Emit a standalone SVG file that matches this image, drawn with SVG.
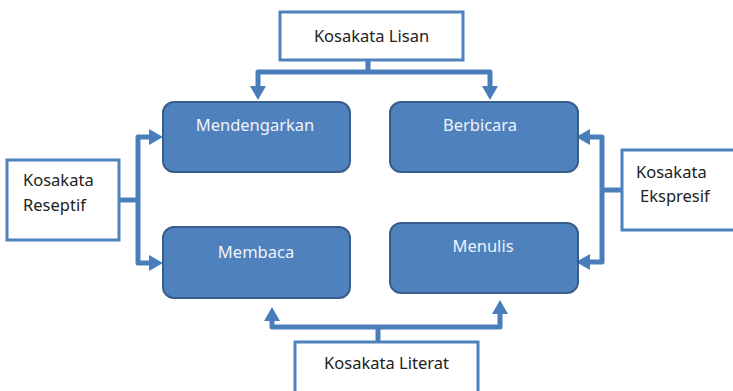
<svg xmlns="http://www.w3.org/2000/svg" width="733" height="391" viewBox="0 0 733 391">
<style>
.bn rect{fill:#4F81BD;stroke:#385D8A;stroke-width:2}
.bn text{fill:#EEF3FA;font-family:"Noto Sans",sans-serif;font-size:16.5px;text-anchor:middle}
.wn rect{fill:#FFFFFF;stroke:#4F81BD;stroke-width:3}
.wn text{fill:#222222;font-family:"Noto Sans",sans-serif;font-size:16.5px}
.con path{fill:none;stroke:#4A7EBB;stroke-width:5;stroke-linejoin:round;marker-end:url(#ah)}
.con path.nm{marker-end:none}
</style>
<defs>
<marker id="ah" markerUnits="userSpaceOnUse" markerWidth="18" markerHeight="18" refX="2" refY="9" orient="auto">
<path d="M0,1 L14,9 L0,17 Z" fill="#4A7EBB"/>
</marker>
</defs>
<g id="connectors" class="con">
<path class="nm" d="M368,60 V72"/>
<path d="M368,72 H258 V88"/>
<path d="M368,72 H490 V88"/>
<path class="nm" d="M378,342 V327"/>
<path d="M378,327 H272 V319"/>
<path d="M378,327 H500 V312"/>
<path class="nm" d="M119,200 H138"/>
<path d="M138,200 V137 H151"/>
<path d="M138,200 V263 H151"/>
<path class="nm" d="M622,190 H602"/>
<path d="M602,190 V137 H588"/>
<path d="M602,190 V262 H588"/>
</g>
<g id="lisan" class="wn"><rect x="280" y="12" width="183" height="48"/><text x="371.5" y="42" text-anchor="middle">Kosakata Lisan</text></g>
<g id="literat" class="wn"><rect x="295" y="342" width="183" height="52"/><text x="386.5" y="369" text-anchor="middle">Kosakata Literat</text></g>
<g id="reseptif" class="wn"><rect x="7" y="160" width="112" height="80"/><text x="23" y="186">Kosakata</text><text x="23" y="211">Reseptif</text></g>
<g id="ekspresif" class="wn"><rect x="622" y="150" width="120" height="80"/><text x="636" y="178">Kosakata</text><text x="640" y="202">Ekspresif</text></g>
<g id="mendengarkan" class="bn"><rect x="163" y="102" width="187" height="70" rx="11"/><text x="255" y="131">Mendengarkan</text></g>
<g id="berbicara" class="bn"><rect x="390" y="102" width="188" height="70" rx="11"/><text x="480" y="131">Berbicara</text></g>
<g id="membaca" class="bn"><rect x="163" y="227" width="187" height="71" rx="11"/><text x="256" y="258">Membaca</text></g>
<g id="menulis" class="bn"><rect x="390" y="223" width="188" height="70" rx="11"/><text x="483" y="252">Menulis</text></g>
</svg>
